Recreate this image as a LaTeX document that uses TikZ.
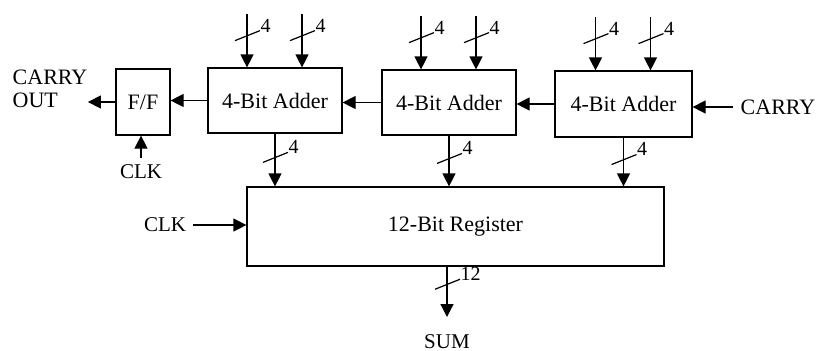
\documentclass[tikz,border=0pt]{standalone}
\usepackage{fontspec}
\setmainfont{Liberation Serif}
\usetikzlibrary{arrows.meta,positioning,calc}
\tikzset{
  blk/.style={draw,inner sep=0pt,minimum width=67pt,minimum height=32.5pt},
  lbl/.style={font=\fontsize{10.5}{12}\selectfont},
  buswidth/.pic={
    \draw (-6pt,-2.5pt) -- (6.5pt,2.5pt);
    \node[font=\fontsize{10}{12}\selectfont,inner sep=0pt,anchor=south west] at (6.5pt,1.5pt) {#1};
  }
}
\begin{document}
\begin{tikzpicture}[x=0.5pt,y=-0.5pt,line width=0.6pt,
  font=\fontsize{11}{11.5}\selectfont,>={Triangle[length=6.5pt,width=6.5pt]}]
  \useasboundingbox (0,0) rectangle (818,350);
  % 方框
  \node[blk,minimum width=27pt,minimum height=33pt] (ff) at (143,102) {F/F};
  \node[blk] (addA) at (275,100.5) {4-Bit Adder};
  \node[blk] (addB) at (449,102.5) {4-Bit Adder};
  \node[blk,minimum width=68.5pt,minimum height=33pt] (addC) at (623.5,104) {4-Bit Adder};
  \node[blk,minimum width=208.5pt,minimum height=39.5pt] (reg) at (455.5,226.5) {12-Bit Register};
  % 加法器输入
  \foreach \a in {addA,addB,addC}
    \foreach \dx/\n in {-14/l,13.5/r}{
      \path (\a.north) ++(\dx pt,-53) coordinate (\a\n);
      \draw[->] (\a\n) -- (\a\n |- \a.north);
      \pic at ($(\a\n)!0.4!(\a\n |- \a.north)$) {buswidth=4};
    }
  % 加法器输出
  \foreach \a in {addA,addB,addC}{
    \draw[->] (\a.south) -- (\a.south |- reg.north);
    \pic at ($(\a.south)!0.45!(\a.south |- reg.north)$) {buswidth=4};
  }
  % 进位链
  \draw[->] (addC.west) -- (addC.west -| addB.east);
  \draw[->] (addB.west) -- (addB.west -| addA.east);
  \draw[->] (addA.west) -- (addA.west -| ff.east);
  % 进位输入
  \node (cin) at (778,107) {CARRY};
  \draw[->] (cin.west) -- (cin.west -| addC.east);
  % 进位输出
  \node[align=left,inner xsep=0pt] (cout) at (50,89) {CARRY\\OUT};
  \draw[->] (ff.west) -- (ff.west -| cout.east);
  % 触发器时钟
  \node[lbl] (ffclk) at (141,172) {CLK};
  \draw[->] (ffclk.north) -- (ff.south -| ffclk.north);
  % 寄存器时钟
  \node[lbl] (rclk) at (165,225) {CLK};
  \draw[->] (rclk.east) -- (rclk.east -| reg.west);
  % 和输出
  \coordinate (sumend) at (447,317);
  \draw[->] (reg.south -| sumend) -- (sumend);
  \pic at ($(reg.south -| sumend)!0.35!(sumend)$) {buswidth=12};
  \node[lbl,below=5pt of sumend] (sum) {SUM};
\end{tikzpicture}
\end{document}
